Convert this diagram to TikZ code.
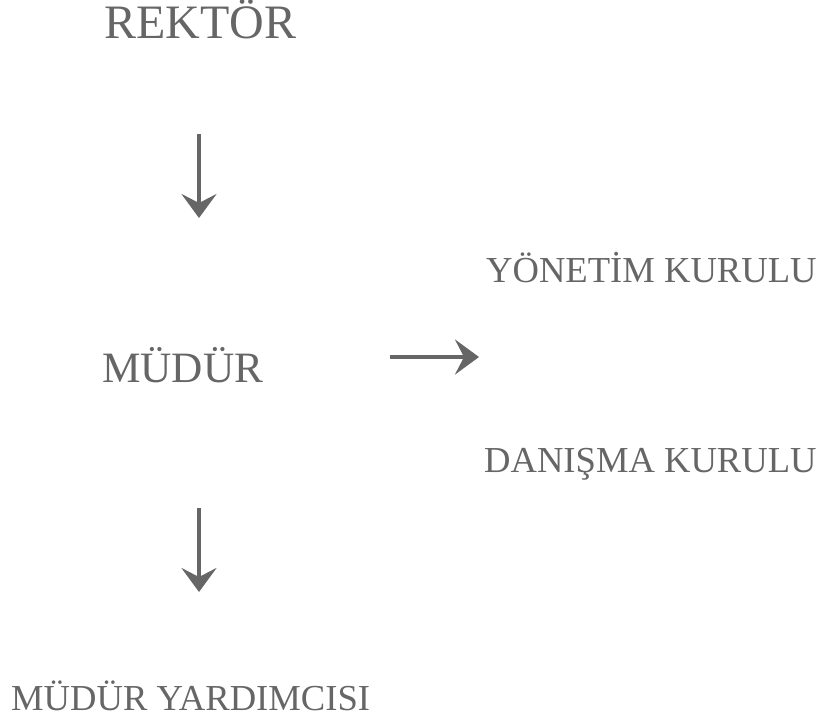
\documentclass[tikz,border=0pt]{standalone}
\usepackage{fontspec}
\setmainfont{Liberation Serif}
\usetikzlibrary{arrows.meta}
\definecolor{ink}{HTML}{666666}
\begin{document}
\begin{tikzpicture}[x=1pt,y=-1pt,
  lbl/.style={anchor=base west, inner sep=0pt, text=ink},
  big/.style={font=\fontsize{48}{52}\selectfont},
  mid/.style={font=\fontsize{43.3}{46}\selectfont},
  small/.style={font=\fontsize{36.6}{40}\selectfont},
  arr/.style={draw=ink, line width=4.5pt,
    -{Stealth[length=24pt,width=35pt,inset=9pt,fill=ink]}}
]
\useasboundingbox (0,0) rectangle (822,724);
\node[lbl,big]   (rektor) at (104,38)  {REKTÖR};
\node[lbl,mid]   (mudur)  at (102,382) {MÜDÜR};
\node[lbl,small] (yonetim) at (486,282) {YÖNETİM KURULU};
\node[lbl,small] (danisma) at (484,472) {DANIŞMA KURULU};
\node[lbl,small] (yard)   at (11,710)  {MÜDÜR YARDIMCISI};
\coordinate (a1s) at (199,134);
\coordinate (a1e) at (199,218);
\coordinate (a2s) at (199,508);
\coordinate (a2e) at (199,592);
\coordinate (a3s) at (390,357);
\coordinate (a3e) at (479,357);
\draw[arr] (a1s) -- (a1e);
\draw[arr] (a2s) -- (a2e);
\draw[arr] (a3s) -- (a3e);
\end{tikzpicture}
\end{document}
